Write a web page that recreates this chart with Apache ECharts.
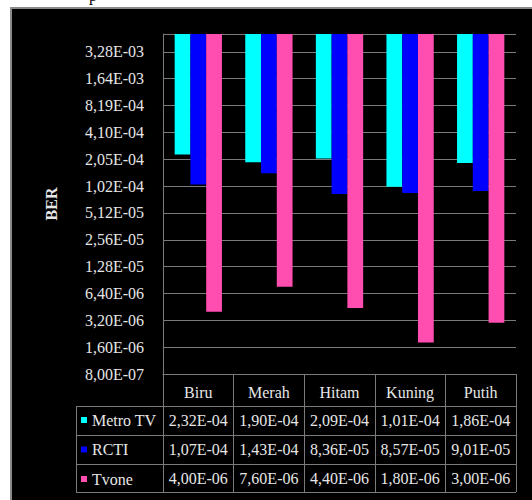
<!DOCTYPE html>
<html><head><meta charset="utf-8">
<script src="https://cdn.jsdelivr.net/npm/echarts@6/dist/echarts.min.js"></script>
<style>
html,body{margin:0;padding:0;background:#fff;width:532px;height:500px;overflow:hidden;}
#frame{position:absolute;left:10px;top:7px;width:522px;height:493px;background:#000;border-left:2px solid #8a8a8a;border-top:2px solid #8a8a8a;box-sizing:border-box;}
#main{position:absolute;left:0;top:0;width:532px;height:500px;}
#p{position:absolute;left:89px;top:-13px;font:16px 'Liberation Serif';color:#000;}
</style></head><body>
<div id="p">p</div>
<div id="frame"></div><div id="main"></div>
<script>
const categories = ['Biru', 'Merah', 'Hitam', 'Kuning', 'Putih'];
const seriesNames = ['Metro TV', 'RCTI', 'Tvone'];
const metroTV = [2.32e-4, 1.90e-4, 2.09e-4, 1.01e-4, 1.86e-4];
const rcti = [1.07e-4, 1.43e-4, 8.36e-5, 8.57e-5, 9.01e-5];
const tvone = [4.00e-6, 7.60e-6, 4.40e-6, 1.80e-6, 3.00e-6];
const tickLabels = ['8,00E-07', '1,60E-06', '3,20E-06', '6,40E-06', '1,28E-05', '2,56E-05',
  '5,12E-05', '1,02E-04', '2,05E-04', '4,10E-04', '8,19E-04', '1,64E-03', '3,28E-03'];
const axisMin = 8e-7;
const axisMax = 5.2e-3;

const colors = ['#00ffff', '#0000ff', '#ff4db0'];
const gridColor = '#7a7a7a';
const textColor = '#e6e6e6';
const font = 'Liberation Serif';
const allSeries = [metroTV, rcti, tvone];

function fmt(v) {
  const s = v.toExponential(2).split('e');
  const exp = parseInt(s[1], 10);
  const sign = exp < 0 ? '-' : '+';
  const a = Math.abs(exp);
  return s[0].replace('.', ',') + 'E' + sign + (a < 10 ? '0' + a : a);
}

const series = [];
allSeries.forEach((vals, i) => {
  series.push({
    type: 'bar', name: '_base' + i, stack: 's' + i, silent: true,
    barGap: '0%', barCategoryGap: '33%',
    itemStyle: { color: 'rgba(0,0,0,0)' },
    data: vals.map(v => v / axisMin)
  });
  series.push({
    type: 'bar', name: seriesNames[i], stack: 's' + i,
    barGap: '0%', barCategoryGap: '33%',
    itemStyle: { color: colors[i] },
    data: vals.map(v => (axisMax - v) / axisMin)
  });
});

const labelBase = { interval: 0, color: textColor, fontFamily: font, fontSize: 16, lineHeight: 16 };
function rowAxis(arr, margin) {
  return {
    type: 'category', data: categories, position: 'bottom',
    axisLine: { show: false }, axisTick: { show: false }, splitLine: { show: false },
    axisLabel: Object.assign({}, labelBase, { margin: margin, formatter: (v, idx) => fmt(arr[idx]) })
  };
}

const chart = echarts.init(document.getElementById('main'), null, { renderer: 'svg' });
chart.setOption({
  animation: false,
  backgroundColor: 'transparent',
  textStyle: { fontFamily: font },
  grid: { left: 163, right: 16, top: 34, bottom: 126 },
  legend: {
    data: seriesNames, orient: 'vertical', left: 81, top: 412, padding: 0,
    itemWidth: 6, itemHeight: 6, itemGap: 13.5, icon: 'rect',
    textStyle: { color: textColor, fontSize: 16, fontFamily: font }
  },
  xAxis: [
    {
      type: 'category', data: categories, position: 'bottom',
      axisLine: { show: true, lineStyle: { color: gridColor, width: 1 } },
      axisTick: { show: true, interval: 0, length: 118, lineStyle: { color: gridColor } },
      axisLabel: Object.assign({}, labelBase, { margin: 10 }),
      splitLine: { show: false }
    },
    rowAxis(metroTV, 38.5),
    rowAxis(rcti, 67),
    rowAxis(tvone, 96)
  ],
  yAxis: {
    type: 'log', logBase: 2, min: 1, max: axisMax / axisMin, interval: 1,
    name: 'BER', nameLocation: 'middle', nameGap: 104, nameRotate: 90,
    nameTextStyle: { color: textColor, fontSize: 16, fontWeight: 'bold', fontFamily: font },
    axisLine: { show: true, lineStyle: { color: gridColor } },
    axisTick: { show: false },
    splitLine: { show: true, lineStyle: { color: gridColor, width: 1 } },
    axisLabel: {
      color: textColor, fontSize: 16, fontFamily: font, margin: 19, showMaxLabel: false,
      formatter: (val) => {
        const k = Math.round(Math.log2(val));
        return Math.abs(Math.log2(val) - k) < 1e-6 && tickLabels[k] ? tickLabels[k] : '';
      }
    }
  },
  graphic: [
    { type: 'line', shape: { x1: 76, y1: 406.5, x2: 516, y2: 406.5 }, style: { stroke: gridColor, lineWidth: 1 } },
    { type: 'line', shape: { x1: 76, y1: 435.5, x2: 516, y2: 435.5 }, style: { stroke: gridColor, lineWidth: 1 } },
    { type: 'line', shape: { x1: 76, y1: 464.5, x2: 516, y2: 464.5 }, style: { stroke: gridColor, lineWidth: 1 } },
    { type: 'line', shape: { x1: 76, y1: 492.5, x2: 516, y2: 492.5 }, style: { stroke: gridColor, lineWidth: 1 } },
    { type: 'line', shape: { x1: 76.5, y1: 406.5, x2: 76.5, y2: 492.5 }, style: { stroke: gridColor, lineWidth: 1 } }
  ],
  series: series
});
</script>
</body></html>
